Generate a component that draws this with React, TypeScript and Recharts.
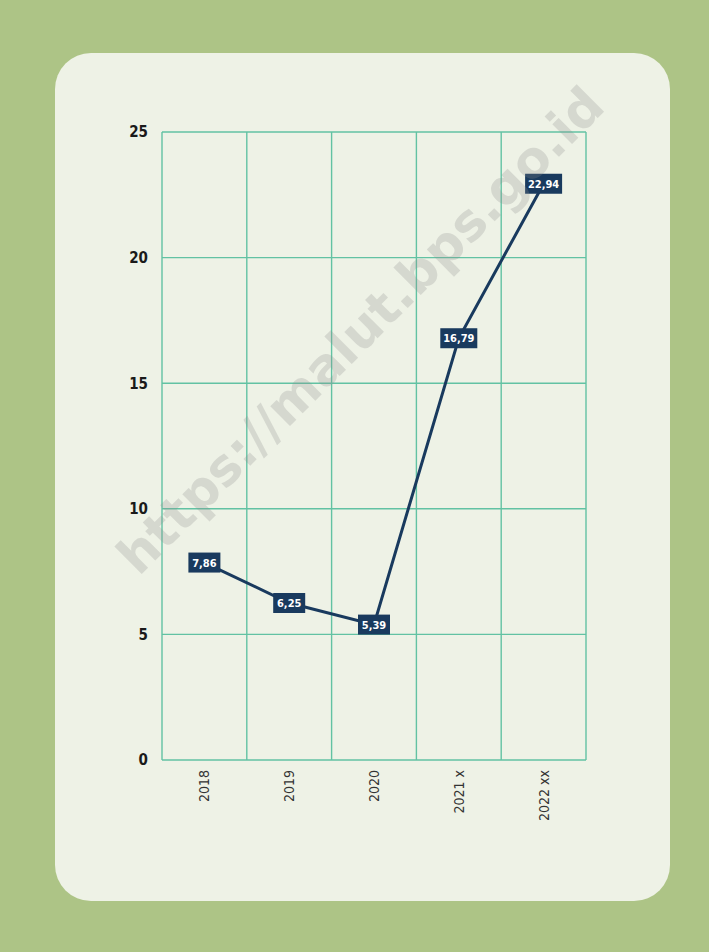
import React from 'react';
import { LineChart, Line, XAxis, YAxis, CartesianGrid, LabelList } from 'recharts';

const years = ['2018', '2019', '2020', '2021 x', '2022 xx'];
const rates = [7.86, 6.25, 5.39, 16.79, 22.94];
const yTicks = [0, 5, 10, 15, 20, 25];

const data = years.map((year, i) => ({ year, value: rates[i] }));

const FONT = '"DejaVu Sans Condensed", "Roboto", sans-serif';
const NAVY = '#193a5e';
const GRID = '#62c2a3';

// Rotated year label under each band
function YearTick({ x, y, payload }: any) {
    return (
        <g transform={`translate(${x},${y})`}>
            <text
                transform="rotate(-90)"
                textAnchor="end"
                dy="0.36em"
                fontFamily={FONT}
                fontSize={14}
                fill="#333"
            >
                {payload.value}
            </text>
        </g>
    );
}

// Navy box with the value, centred on the point
function ValueBox({ x, y, value }: any) {
    const text = Number(value).toFixed(2).replace('.', ',');
    const w = text.length > 4 ? 37 : 32;
    const h = 20;
    return (
        <g>
            <rect x={x - w / 2} y={y - h / 2} width={w} height={h} fill={NAVY} />
            <text
                x={x}
                y={y}
                dy="0.36em"
                textAnchor="middle"
                fontFamily={FONT}
                fontWeight="bold"
                fontSize={11}
                fill="#ffffff"
            >
                {text}
            </text>
        </g>
    );
}

export default function App() {
    return (
        <div style={{ position: 'absolute', left: 0, top: 0, width: 709, height: 952, background: '#adc486', overflow: 'hidden' }}>
            <div
                style={{
                    position: 'absolute',
                    left: 55,
                    top: 53,
                    width: 615,
                    height: 848,
                    borderRadius: 36,
                    background: '#eef2e6',
                }}
            />
            <div style={{ position: 'absolute', left: 0, top: 0 }}>
                <LineChart width={709} height={952} data={data} margin={{ top: 132, right: 123, bottom: 112, left: 102 }}>
                    <CartesianGrid
                        stroke={GRID}
                        strokeWidth={1.4}
                        verticalCoordinatesGenerator={({ offset }: any) =>
                            years.map((_, i) => offset.left + (i * offset.width) / years.length).concat(offset.left + offset.width)
                        }
                    />
                    <XAxis
                        dataKey="year"
                        scale="band"
                        height={80}
                        axisLine={false}
                        tickLine={false}
                        tickMargin={4}
                        tick={<YearTick />}
                        interval={0}
                    />
                    <YAxis
                        domain={[0, 25]}
                        ticks={yTicks}
                        width={60}
                        axisLine={false}
                        tickLine={false}
                        tickMargin={8}
                        tick={{ fontFamily: FONT, fontWeight: 'bold', fontSize: 15, fill: '#1a1a1a' }}
                    />
                    <Line
                        type="linear"
                        dataKey="value"
                        stroke={NAVY}
                        strokeWidth={3}
                        dot={false}
                        isAnimationActive={false}
                    >
                        <LabelList dataKey="value" content={<ValueBox />} />
                    </Line>
                </LineChart>
            </div>
            <svg width={709} height={952} style={{ position: 'absolute', left: 0, top: 0, pointerEvents: 'none' }}>
                <text
                    x={363}
                    y={333}
                    transform="rotate(-45 363 333)"
                    textAnchor="middle"
                    dominantBaseline="middle"
                    fontFamily='"DejaVu Sans", sans-serif'
                    fontWeight="bold"
                    fontSize={51}
                    fill="#8a8a8a"
                    fillOpacity={0.25}
                >
                    https://malut.bps.go.id
                </text>
            </svg>
        </div>
    );
}
